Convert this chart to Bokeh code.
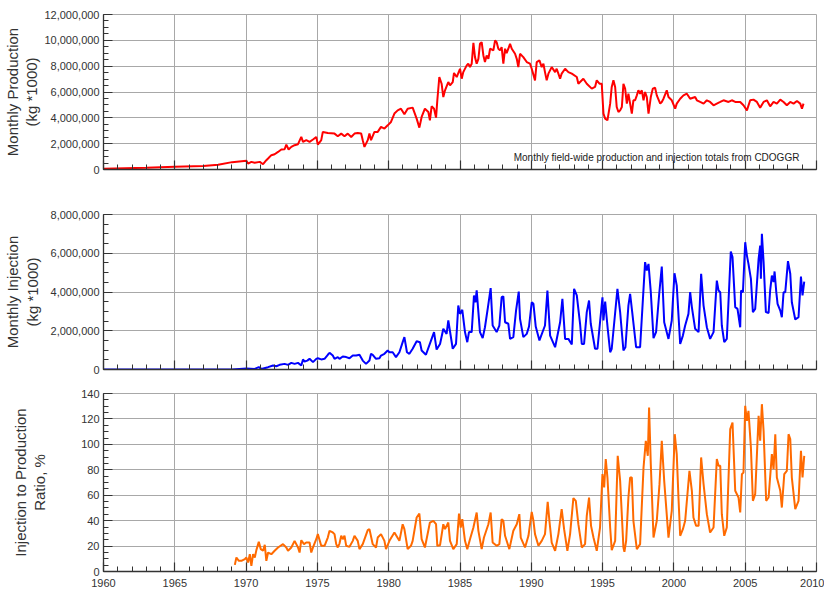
from bokeh.plotting import figure
from bokeh.layouts import column
from bokeh.models import (SingleIntervalTicker, NumeralTickFormatter, Label,
                          Range1d, ColumnDataSource, CustomJSTickFormatter)
from bokeh.embed import file_html
from bokeh.resources import INLINE

# ---------------- data ----------------
production_year = [
    1960.0, 1963.0, 1965.0, 1967.0, 1968.04, 1969.02, 1970.02, 1970.14, 1970.37, 1970.6,
    1970.96, 1971.19, 1971.42, 1971.54, 1971.77, 1972.0, 1972.24, 1972.47, 1972.7, 1972.82,
    1972.98, 1973.17, 1973.4, 1973.64, 1973.87, 1973.99, 1974.22, 1974.45, 1974.69, 1974.92,
    1975.03, 1975.27, 1975.38, 1975.73, 1976.2, 1976.43, 1976.67, 1976.9, 1977.13, 1977.37,
    1977.6, 1977.83, 1978.07, 1978.18, 1978.3, 1978.53, 1978.65, 1978.76, 1979.0, 1979.23,
    1979.46, 1979.7, 1979.93, 1980.16, 1980.4, 1980.63, 1980.86, 1981.1, 1981.33, 1981.68,
    1981.96, 1982.15, 1982.31, 1982.54, 1982.78, 1982.89, 1983.01, 1983.18, 1983.32, 1983.41,
    1983.55, 1983.71, 1983.83, 1983.95, 1984.06, 1984.18, 1984.3, 1984.49, 1984.58, 1984.77,
    1985.0, 1985.12, 1985.23, 1985.47, 1985.58, 1985.7, 1985.82, 1985.94, 1986.05, 1986.17,
    1986.29, 1986.4, 1986.52, 1986.64, 1986.75, 1986.87, 1986.99, 1987.11, 1987.34, 1987.46,
    1987.57, 1987.69, 1987.81, 1987.92, 1988.04, 1988.16, 1988.27, 1988.39, 1988.51, 1988.63,
    1988.86, 1988.98, 1989.09, 1989.21, 1989.44, 1989.68, 1989.91, 1990.03, 1990.26, 1990.38,
    1990.57, 1990.73, 1990.85, 1990.96, 1991.08, 1991.2, 1991.43, 1991.67, 1991.78, 1992.02,
    1992.13, 1992.37, 1992.6, 1992.84, 1993.19, 1993.3, 1993.65, 1993.89, 1994.24, 1994.47,
    1994.59, 1994.78, 1994.94, 1995.06, 1995.18, 1995.34, 1995.53, 1995.64, 1995.76, 1995.88,
    1995.99, 1996.11, 1996.23, 1996.35, 1996.46, 1996.58, 1996.7, 1996.81, 1996.93, 1997.05,
    1997.16, 1997.28, 1997.4, 1997.51, 1997.63, 1997.75, 1997.87, 1997.98, 1998.1, 1998.22,
    1998.38, 1998.52, 1998.68, 1998.8, 1999.04, 1999.15, 1999.27, 1999.5, 1999.62, 1999.85,
    2000.09, 2000.2, 2000.44, 2000.67, 2000.91, 2001.14, 2001.49, 2001.61, 2001.84, 2002.08,
    2002.31, 2002.54, 2002.78, 2003.01, 2003.25, 2003.48, 2003.83, 2004.06, 2004.3, 2004.65,
    2004.88, 2005.12, 2005.35, 2005.58, 2005.82, 2006.05, 2006.29, 2006.52, 2006.75, 2006.99,
    2007.22, 2007.46, 2007.69, 2007.92, 2008.16, 2008.39, 2008.63, 2008.86, 2008.98, 2009.09,
]
production_million = [
    0.05, 0.13, 0.21, 0.28, 0.36, 0.57, 0.67, 0.46, 0.59, 0.52,
    0.59, 0.41, 0.72, 0.85, 1.11, 1.18, 1.36, 1.55, 1.57, 1.93,
    1.55, 1.75, 1.88, 1.96, 2.52, 2.14, 2.27, 2.14, 2.32, 2.52,
    1.93, 2.27, 2.91, 2.83, 2.78, 2.58, 2.78, 2.58, 2.78, 2.52,
    2.78, 2.83, 2.78, 2.27, 1.75, 2.27, 2.78, 2.27, 2.91, 2.91,
    3.30, 3.17, 3.42, 3.68, 4.33, 4.58, 4.71, 4.27, 4.71, 4.79,
    3.94, 3.24, 4.07, 4.71, 4.45, 3.81, 4.89, 4.71, 4.02, 5.36,
    7.16, 6.64, 5.61, 6.13, 6.44, 6.77, 6.51, 6.77, 7.47, 7.16,
    7.80, 7.03, 7.54, 8.06, 8.19, 7.93, 8.19, 9.81, 8.70, 8.19,
    8.57, 9.73, 9.86, 8.83, 8.32, 8.83, 8.57, 9.35, 9.22, 9.99,
    9.86, 9.35, 9.22, 9.48, 8.19, 9.35, 9.01, 9.35, 9.73, 9.35,
    8.96, 8.57, 7.93, 8.96, 8.70, 8.32, 8.19, 7.80, 6.90, 8.32,
    8.45, 7.93, 8.19, 7.54, 6.90, 7.42, 7.93, 7.54, 7.80, 7.03,
    7.42, 7.80, 7.54, 7.42, 7.16, 6.64, 7.03, 6.64, 6.26, 6.39,
    6.90, 6.64, 6.64, 4.33, 3.94, 3.81, 5.10, 6.39, 6.90, 6.39,
    4.84, 4.45, 4.58, 4.84, 6.64, 6.26, 5.10, 5.87, 5.10, 4.33,
    5.36, 5.36, 5.74, 6.13, 5.87, 6.13, 5.36, 6.00, 5.61, 4.33,
    5.61, 6.26, 6.33, 5.74, 5.10, 5.23, 5.48, 6.13, 5.61, 5.36,
    4.71, 5.10, 5.48, 5.74, 5.87, 5.48, 5.61, 5.36, 5.23, 5.10,
    5.36, 5.23, 4.97, 5.10, 5.23, 5.36, 5.23, 5.36, 5.23, 5.23,
    4.97, 4.58, 5.36, 5.41, 5.23, 4.79, 5.23, 5.36, 4.89, 5.23,
    5.10, 5.41, 5.23, 4.97, 5.23, 5.10, 5.30, 5.10, 4.71, 5.10,
]

injection_year = [
    1960.0, 1969.0, 1969.53, 1970.02, 1970.6, 1970.89, 1971.07, 1971.54, 1971.89, 1972.12,
    1972.35, 1972.7, 1972.94, 1973.17, 1973.4, 1973.64, 1973.87, 1973.99, 1974.1, 1974.29,
    1974.45, 1974.69, 1974.92, 1975.03, 1975.27, 1975.5, 1975.73, 1975.85, 1976.08, 1976.2,
    1976.43, 1976.55, 1976.78, 1977.02, 1977.25, 1977.48, 1977.72, 1977.95, 1978.18, 1978.41,
    1978.65, 1978.76, 1978.88, 1979.11, 1979.35, 1979.46, 1979.7, 1979.93, 1980.05, 1980.28,
    1980.51, 1980.75, 1980.98, 1981.1, 1981.28, 1981.45, 1981.68,
    1981.96, 1982.19, 1982.31, 1982.61, 1983.01, 1983.18, 1983.36, 1983.6, 1983.83, 1984.06,
    1984.18, 1984.49, 1984.72, 1984.88, 1985.0, 1985.16, 1985.35, 1985.51, 1985.63, 1985.82,
    1985.98, 1986.08, 1986.17, 1986.29, 1986.4, 1986.59, 1986.75, 1986.96, 1987.15, 1987.29,
    1987.57, 1987.76, 1987.92, 1988.04, 1988.16, 1988.39, 1988.51, 1988.74, 1988.93, 1989.12,
    1989.21, 1989.44, 1989.68, 1989.84, 1990.03, 1990.15, 1990.31, 1990.57, 1990.96, 1991.13,
    1991.32, 1991.67, 1992.02, 1992.18, 1992.37, 1992.6, 1992.84, 1993.0, 1993.19, 1993.42,
    1993.54, 1993.7, 1993.89, 1994.05, 1994.17, 1994.47, 1994.64, 1994.99, 1995.06, 1995.18,
    1995.36, 1995.53, 1995.64, 1996.04, 1996.23, 1996.46, 1996.6, 1996.81, 1996.93, 1997.09,
    1997.35, 1997.63, 1997.98, 1998.1, 1998.22, 1998.38, 1998.57, 1998.75, 1998.96, 1999.15,
    1999.32, 1999.62, 1999.85, 2000.04, 2000.2, 2000.44, 2000.63, 2000.79, 2001.02, 2001.14,
    2001.26, 2001.49, 2001.73, 2001.91, 2002.08, 2002.31, 2002.54, 2002.78, 2003.01, 2003.13,
    2003.25, 2003.36, 2003.53, 2003.71, 2003.99, 2004.11, 2004.3, 2004.46, 2004.65, 2004.71,
    2004.84, 2005.0, 2005.12, 2005.23, 2005.4, 2005.54, 2005.7, 2005.94, 2006.05, 2006.1,
    2006.17, 2006.29, 2006.45, 2006.64, 2006.75, 2006.87, 2006.99, 2007.06, 2007.18, 2007.27,
    2007.46, 2007.57, 2007.69, 2007.81, 2008.0, 2008.16, 2008.27, 2008.51, 2008.74, 2008.91,
    2009.02, 2009.14,
]
injection_million = [
    0.0, 0.0, 0.03, 0.05, 0.03, 0.12, 0.03, 0.12, 0.21, 0.17,
    0.24, 0.29, 0.24, 0.34, 0.29, 0.34, 0.21, 0.52, 0.41, 0.46,
    0.55, 0.38, 0.55, 0.58, 0.52, 0.55, 0.76, 0.86, 0.72, 0.55,
    0.64, 0.55, 0.67, 0.64, 0.58, 0.72, 0.72, 0.76, 0.46, 0.29,
    0.46, 0.81, 0.76, 0.55, 0.58, 0.72, 0.81, 0.98, 0.89, 0.89,
    0.64, 0.89, 1.41, 1.67, 0.89, 0.81, 1.07,
    1.46, 1.41, 0.98, 0.76, 1.58, 1.93, 1.03, 1.32, 2.10, 1.84,
    2.53, 1.07, 1.32, 3.30, 2.87, 3.08, 1.93, 1.41, 1.93, 1.93,
    3.82, 3.47, 4.08, 2.96, 1.93, 1.62, 2.18, 3.22, 4.20, 2.27,
    1.93, 2.27, 3.73, 3.78, 2.44, 2.36, 1.58, 1.67, 3.04, 4.02,
    2.61, 1.67, 1.84, 2.22, 3.47, 3.39, 2.22, 1.50, 2.27, 4.08,
    1.75, 1.15, 2.44, 3.65, 1.58, 1.58, 1.29, 4.16, 3.82, 2.36,
    1.32, 1.32, 2.96, 3.56, 2.36, 1.07, 1.07, 3.73, 2.53, 3.51,
    2.10, 0.89, 1.07, 4.16, 2.96, 0.98, 1.15, 3.30, 3.90, 2.87,
    1.15, 1.15, 5.54, 5.11, 5.45, 3.99, 1.62, 1.93, 3.82, 5.31,
    2.44, 1.58, 2.53, 4.97, 4.33, 1.32, 1.75, 2.27, 2.87, 3.99,
    3.22, 2.10, 1.93, 4.94, 3.30, 2.18, 1.58, 1.93, 4.59, 4.08,
    3.99, 2.27, 1.41, 1.58, 6.09, 5.80, 3.22, 3.13, 2.18, 4.08,
    3.99, 6.57, 5.88, 5.45, 4.68, 2.96, 3.13, 5.71, 6.40, 4.68,
    7.00, 5.54, 2.96, 2.92, 4.08, 4.85, 4.51, 5.06, 3.99, 3.39,
    3.04, 2.70, 3.99, 3.99, 5.59, 4.94, 3.47, 2.58, 2.70, 4.80,
    3.82, 4.54,
]

ratio_year = [
    1969.21, 1969.32, 1969.49, 1969.67, 1969.91, 1970.02, 1970.14, 1970.26, 1970.37, 1970.49,
    1970.61, 1970.72, 1970.89, 1971.03, 1971.19, 1971.31, 1971.42, 1971.54, 1971.77, 1972.0,
    1972.24, 1972.59, 1972.82, 1972.94, 1973.17, 1973.4, 1973.64, 1973.75, 1973.87, 1974.06,
    1974.22, 1974.45, 1974.57, 1974.69, 1974.92, 1975.03, 1975.27, 1975.5, 1975.73, 1975.85,
    1976.08, 1976.2, 1976.32, 1976.43, 1976.55, 1976.67, 1976.78, 1976.9, 1977.02, 1977.25,
    1977.48, 1977.6, 1977.83, 1977.95, 1978.18, 1978.53, 1978.65, 1978.88, 1979.11, 1979.23,
    1979.46, 1979.7, 1979.81, 1980.05, 1980.4, 1980.75, 1980.98, 1981.1, 1981.33, 1981.56,
    1981.68,
    1981.96, 1982.15, 1982.31, 1982.54, 1982.89, 1983.13, 1983.32, 1983.41, 1983.6, 1983.83,
    1983.95, 1984.18, 1984.3, 1984.53, 1984.77, 1984.93, 1985.05, 1985.16, 1985.35, 1985.51,
    1985.7, 1985.94, 1986.17, 1986.29, 1986.52, 1986.68, 1986.99, 1987.15, 1987.29, 1987.57,
    1987.76, 1987.92, 1988.04, 1988.16, 1988.46, 1988.74, 1988.98, 1989.16, 1989.26, 1989.56,
    1989.8, 1990.03, 1990.15, 1990.26, 1990.5, 1990.73, 1990.96, 1991.15, 1991.27, 1991.43,
    1991.67, 1991.9, 1992.13, 1992.3, 1992.53, 1992.72, 1992.95, 1993.12, 1993.3, 1993.54,
    1993.77, 1993.89, 1994.05, 1994.19, 1994.36, 1994.59, 1994.82, 1994.99, 1995.11, 1995.22,
    1995.34, 1995.53, 1995.64, 1995.88, 1996.06, 1996.23, 1996.46, 1996.53, 1996.65, 1996.81,
    1996.93, 1997.05, 1997.16, 1997.4, 1997.63, 1997.87, 1998.03, 1998.17, 1998.26, 1998.38,
    1998.57, 1998.8, 1998.99, 1999.15, 1999.32, 1999.62, 1999.85, 2000.06, 2000.2, 2000.32,
    2000.44, 2000.63, 2000.79, 2001.09, 2001.26, 2001.37, 2001.56, 2001.73, 2001.91, 2002.08,
    2002.31, 2002.54, 2002.78, 2003.01, 2003.13, 2003.25, 2003.36, 2003.53, 2003.71, 2003.95,
    2004.11, 2004.3, 2004.53, 2004.65, 2004.77, 2004.88, 2005.0, 2005.12, 2005.23, 2005.4,
    2005.54, 2005.7, 2005.94, 2006.05, 2006.17, 2006.29, 2006.47, 2006.64, 2006.87, 2006.99,
    2007.11, 2007.22, 2007.46, 2007.57, 2007.74, 2007.92, 2008.04, 2008.16, 2008.27, 2008.51,
    2008.74, 2008.91, 2009.02, 2009.14,
]
ratio_percent = [
    5.2, 11.0, 8.4, 8.4, 9.7, 11.0, 7.1, 13.6, 4.5, 13.6,
    11.0, 16.8, 23.3, 17.6, 16.3, 21.0, 8.4, 14.9, 13.6, 16.3,
    18.9, 21.5, 18.9, 16.3, 18.9, 24.1, 18.9, 14.9, 24.6, 21.5,
    22.8, 22.8, 14.9, 18.9, 25.4, 29.4, 20.2, 20.2, 26.7, 32.0,
    30.7, 29.4, 21.5, 18.9, 22.0, 28.1, 25.4, 28.1, 20.2, 19.4,
    24.1, 28.1, 24.1, 17.6, 21.5, 32.5, 33.3, 21.5, 18.9, 26.7,
    29.4, 24.1, 17.6, 24.1, 30.7, 24.1, 37.2, 33.3, 17.6, 20.2,
    24.1,
    42.5, 45.6, 25.4, 18.9, 38.5, 39.9, 37.2, 20.2, 20.7, 37.2,
    33.3, 38.5, 24.1, 17.6, 21.5, 45.6, 34.6, 41.2, 24.1, 17.6,
    25.4, 34.6, 46.4, 32.0, 17.6, 26.7, 37.2, 46.4, 22.8, 20.2,
    21.5, 41.2, 39.9, 28.1, 17.6, 32.0, 37.2, 45.1, 26.7, 18.9,
    28.1, 46.9, 39.9, 29.4, 20.2, 24.1, 29.4, 54.8, 39.9, 22.8,
    16.3, 29.4, 49.0, 33.3, 16.3, 29.4, 57.7, 55.6, 37.2, 18.9,
    21.5, 43.8, 58.2, 35.9, 26.7, 16.3, 34.6, 76.6, 66.1, 88.4,
    73.9, 34.6, 16.8, 24.1, 91.0, 71.3, 18.9, 15.5, 24.1, 58.2,
    73.9, 73.9, 39.9, 17.6, 21.5, 81.8, 102.8, 91.0, 129.0, 84.4,
    26.7, 39.9, 68.7, 102.8, 71.3, 26.7, 47.7, 108.0, 92.3, 58.2,
    28.1, 33.3, 39.9, 79.2, 63.5, 42.5, 35.9, 35.9, 89.7, 68.7,
    45.1, 30.7, 34.6, 88.4, 83.1, 83.1, 45.1, 28.1, 34.6, 112.0,
    117.2, 63.5, 58.2, 46.4, 76.6, 77.9, 130.3, 118.5, 126.4, 97.5,
    55.6, 60.8, 122.4, 102.8, 131.6, 110.6, 55.6, 58.2, 92.3, 80.5,
    108.0, 73.9, 63.5, 50.3, 76.6, 79.2, 108.0, 104.1, 73.9, 49.0,
    55.6, 94.9, 73.9, 91.0,
]

x_start, x_end = 1960, 2010
x_tick_interval = 5
note_text = "Monthly field-wide production and injection totals from CDOGGR"

# ---------------- styling helpers ----------------
FONT = "Liberation Sans"
AXIS_COLOR = "#333333"
GRID_COLOR = "#a8a8a8"
TEXT_COLOR = "#333333"


def make_panel(ymax, yinterval, top, frame_h, bottom, ylabel, label_standoff, show_x_labels):
    p = figure(frame_width=713, frame_height=frame_h,
               min_border_left=102, min_border_right=9,
               min_border_top=top, min_border_bottom=bottom,
               x_range=Range1d(x_start, x_end), y_range=Range1d(0, ymax),
               output_backend="svg", toolbar_location=None,
               background_fill_color="white", border_fill_color="white",
               outline_line_color=GRID_COLOR, outline_line_width=1)
    p.xaxis.ticker = SingleIntervalTicker(interval=x_tick_interval, num_minor_ticks=5)
    p.yaxis.ticker = SingleIntervalTicker(interval=yinterval, num_minor_ticks=4)
    p.yaxis.formatter = NumeralTickFormatter(format="0,0")
    for ax in (p.xaxis[0], p.yaxis[0]):
        ax.axis_line_color = AXIS_COLOR
        ax.axis_line_width = 1.3
        ax.major_tick_line_color = AXIS_COLOR
        ax.minor_tick_line_color = AXIS_COLOR
        ax.major_tick_line_width = 1.2
        ax.major_tick_in = 9
        ax.major_tick_out = 0
        ax.minor_tick_in = 5
        ax.minor_tick_out = 0
        ax.major_label_text_font = FONT
        ax.major_label_text_font_size = "11px"
        ax.major_label_text_color = TEXT_COLOR
    p.yaxis.major_label_standoff = 4
    if show_x_labels:
        p.xaxis.major_label_standoff = 7
    else:
        p.xaxis.formatter = CustomJSTickFormatter(code="return ''")
        p.xaxis.major_label_text_font_size = "1px"
        p.xaxis.major_label_standoff = 0
    p.yaxis.axis_label = ylabel
    p.yaxis.axis_label_text_font = FONT
    p.yaxis.axis_label_text_font_size = "15px"
    p.yaxis.axis_label_text_font_style = "normal"
    p.yaxis.axis_label_text_color = TEXT_COLOR
    p.yaxis.axis_label_text_line_height = 1.15
    p.yaxis.axis_label_standoff = label_standoff
    p.xgrid.grid_line_color = GRID_COLOR
    p.ygrid.grid_line_color = GRID_COLOR
    p.xgrid.grid_line_width = 1
    p.ygrid.grid_line_width = 1
    return p


# Panel 1: production
p1 = make_panel(12_000_000, 2_000_000, 14, 155, 20,
                "Monthly Production\n(kg *1000)", 1, False)
src1 = ColumnDataSource(dict(x=production_year,
                             y=[v * 1e6 for v in production_million]))
p1.line("x", "y", source=src1, line_color="#ff0000", line_width=2)
p1.add_layout(Label(x=2008.8, y=930_000, text=note_text,
                    text_font=FONT, text_font_size="10px",
                    text_color="#222222", text_align="right",
                    text_baseline="middle"))

# Panel 2: injection
p2 = make_panel(8_000_000, 2_000_000, 25, 155, 10,
                "Monthly Injection\n(kg *1000)", 7, False)
src2 = ColumnDataSource(dict(x=injection_year,
                             y=[v * 1e6 for v in injection_million]))
p2.line("x", "y", source=src2, line_color="#0000ff", line_width=2)

# Panel 3: ratio
p3 = make_panel(140, 20, 14, 178, 21,
                "Injection to Production\nRatio, %", 30, True)
src3 = ColumnDataSource(dict(x=ratio_year, y=ratio_percent))
p3.line("x", "y", source=src3, line_color="#ff6a00", line_width=2)

layout = column(p1, p2, p3, spacing=0)

open("out.html", "w").write(file_html(layout, INLINE))
